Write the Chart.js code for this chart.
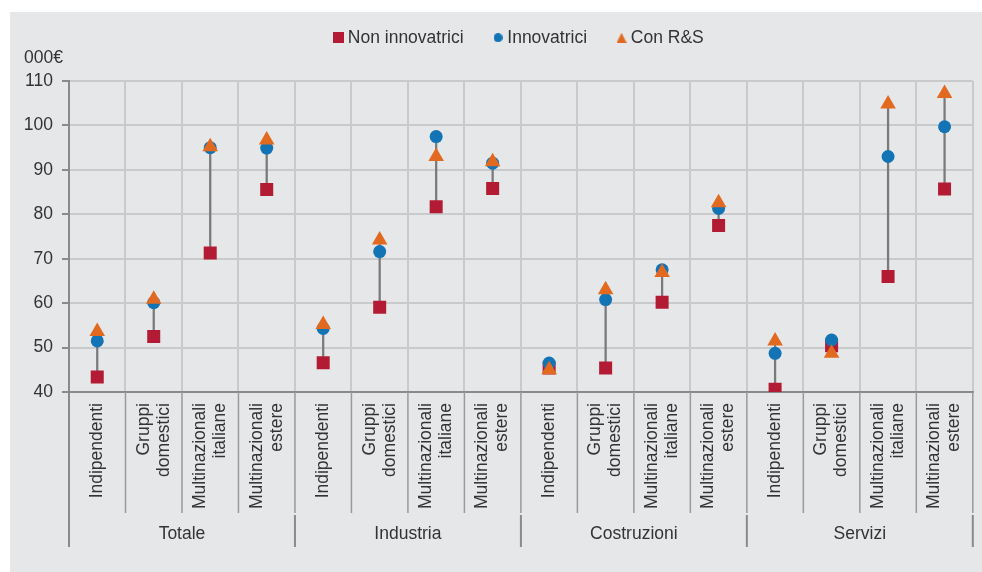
<!DOCTYPE html>
<html>
<head>
<meta charset="utf-8">
<script src="https://cdn.jsdelivr.net/npm/chart.js@4"></script>
<style>
  html, body { margin: 0; padding: 0; background: #fff; }
  #wrap { position: absolute; left: 10px; top: 12px; width: 972px; height: 560px; background: #e6e7e8; }
</style>
</head>
<body>
<div id="wrap"><canvas id="chart" width="972" height="560"></canvas></div>
<script>
// Chart data
const sectors = ['Totale', 'Industria', 'Costruzioni', 'Servizi'];
const firmTypes = [['Indipendenti'], ['Gruppi', 'domestici'], ['Multinazionali', 'italiane'], ['Multinazionali', 'estere']];
const nonInnovatrici = [43.4, 52.5, 71.3, 85.6, 46.6, 59.1, 81.7, 85.8, 45.4, 45.4, 60.2, 77.5, 40.6, 50.4, 66.0, 85.7];
const innovatrici = [51.5, 60.1, 95.0, 94.9, 54.3, 71.6, 97.5, 91.5, 46.5, 60.8, 67.5, 81.3, 48.7, 51.7, 93.0, 99.7];
const conRS = [53.6, 60.9, 95.2, 96.7, 55.2, 74.2, 93.0, 91.8, 45.0, 63.0, 66.9, 82.6, 51.5, 48.7, 104.8, 107.2];
const yMin = 40, yMax = 110, yStep = 10;
const unitLabel = '000€';

const categoryLabels = [];
sectors.forEach(() => firmTypes.forEach(t => categoryLabels.push(t)));

// min-max range for the connecting line
const ranges = nonInnovatrici.map((v, i) => {
    const vals = [v, innovatrici[i], conRS[i]];
    return [Math.min(...vals), Math.max(...vals)];
});

const FONT = '"Liberation Sans", Arial, sans-serif';
const TEXT = '#333333';
const RED = '#b31b34', BLUE = '#1273b5', ORANGE = '#e26a20';
Chart.defaults.font.family = FONT;
Chart.defaults.font.size = 17.5;
Chart.defaults.color = TEXT;

// small legend markers, one per series
function makeMarker(shape, size, color) {
    const c = document.createElement('canvas');
    c.width = size;
    c.height = size;
    const m = c.getContext('2d');
    m.fillStyle = color;
    m.beginPath();
    if (shape === 'rect') {
        m.rect(0, 0, size, size);
    } else if (shape === 'circle') {
        m.arc(size / 2, size / 2, size / 2, 0, Math.PI * 2);
    } else {
        m.moveTo(size / 2, 0);
        m.lineTo(size, size);
        m.lineTo(0, size);
        m.closePath();
    }
    m.fill();
    return c;
}
const legendMarkers = {
    1: makeMarker('rect', 11, RED),
    2: makeMarker('circle', 9, BLUE),
    3: makeMarker('triangle', 10, ORANGE)
};

// extra room under the legend
const legendSpacer = {
    id: 'legendSpacer',
    beforeInit(chart) {
        const fit = chart.legend.fit;
        chart.legend.fit = function() {
            fit.call(this);
            this.height += 24.5;
        };
    }
};

// x axis labels on two levels, separators and unit label
const axisDecor = {
    id: 'axisDecor',
    afterDraw(chart) {
        const ctx = chart.ctx;
        const x = chart.scales.x;
        const top = chart.chartArea.bottom;
        const n = categoryLabels.length;
        ctx.save();

        ctx.strokeStyle = '#9a9a9a';
        ctx.lineWidth = 1.5;
        for (let i = 0; i <= n; i++) {
            const px = x.getPixelForValue(i - 0.5);
            ctx.beginPath();
            ctx.moveTo(px, top);
            ctx.lineTo(px, top + 121);
            ctx.stroke();
        }
        ctx.strokeStyle = '#8a8a8a';
        ctx.lineWidth = 2;
        for (let g = 0; g <= sectors.length; g++) {
            const px = x.getPixelForValue(g * firmTypes.length - 0.5);
            ctx.beginPath();
            ctx.moveTo(px, g === 0 ? top : top + 123);
            ctx.lineTo(px, top + 155);
            ctx.stroke();
        }

        ctx.fillStyle = TEXT;
        ctx.font = '17.5px ' + FONT;
        categoryLabels.forEach((lines, i) => {
            ctx.save();
            ctx.translate(x.getPixelForValue(i), top + 11);
            ctx.rotate(-Math.PI / 2);
            ctx.textAlign = 'right';
            ctx.textBaseline = 'middle';
            lines.forEach((line, j) => ctx.fillText(line, 0, (j - (lines.length - 1) / 2) * 20));
            ctx.restore();
        });

        ctx.textAlign = 'center';
        ctx.textBaseline = 'middle';
        sectors.forEach((s, g) => {
            const a = x.getPixelForValue(g * firmTypes.length - 0.5);
            const b = x.getPixelForValue((g + 1) * firmTypes.length - 0.5);
            ctx.fillText(s, (a + b) / 2, top + 142);
        });

        ctx.textAlign = 'left';
        ctx.fillText(unitLabel, 14, 46);
        ctx.restore();
    }
};

const ctx = document.getElementById('chart').getContext('2d');
const chart = new Chart(ctx, {
    type: 'line',
    data: {
        labels: categoryLabels,
        datasets: [{
            type: 'bar',
            label: 'range',
            data: ranges,
            backgroundColor: '#7a7a7a',
            barThickness: 1.6,
            order: 3
        }, {
            label: 'Non innovatrici',
            data: nonInnovatrici,
            showLine: false,
            pointStyle: 'rect',
            pointRadius: 9.2,
            pointHoverRadius: 9.2,
            pointBorderWidth: 0,
            backgroundColor: RED,
            borderColor: RED,
            order: 2
        }, {
            label: 'Innovatrici',
            data: innovatrici,
            showLine: false,
            pointStyle: 'circle',
            pointRadius: 6.5,
            pointHoverRadius: 6.5,
            pointBorderWidth: 0,
            backgroundColor: BLUE,
            borderColor: BLUE,
            order: 1
        }, {
            label: 'Con R&S',
            data: conRS,
            showLine: false,
            pointStyle: 'triangle',
            pointRadius: 9,
            pointHoverRadius: 9,
            pointBorderWidth: 0,
            backgroundColor: ORANGE,
            borderColor: ORANGE,
            order: 0
        }]
    },
    options: {
        responsive: false,
        animation: false,
        layout: {
            padding: { top: -17, right: 6, bottom: 0, left: 0 }
        },
        scales: {
            x: {
                type: 'category',
                offset: true,
                grid: {
                    offset: true,
                    color: '#c9cacc',
                    lineWidth: 2,
                    drawTicks: false
                },
                border: { color: '#8a8a8a', width: 2 },
                ticks: { display: false },
                afterFit(scale) { scale.height = 180; }
            },
            y: {
                min: yMin,
                max: yMax,
                ticks: {
                    stepSize: yStep,
                    padding: 9,
                    color: TEXT
                },
                grid: {
                    color: '#c9cacc',
                    lineWidth: 2,
                    tickLength: 7,
                    tickColor: '#8a8a8a'
                },
                border: { color: '#8a8a8a', width: 2 },
                afterFit(scale) { scale.width = 59; }
            }
        },
        plugins: {
            legend: {
                display: true,
                position: 'top',
                fullSize: false,
                labels: {
                    usePointStyle: true,
                    boxHeight: 9,
                    boxWidth: 1,
                    padding: 34,
                    color: TEXT,
                    filter: item => item.datasetIndex > 0,
                    sort: (a, b) => a.datasetIndex - b.datasetIndex,
                    generateLabels(chart) {
                        const items = Chart.defaults.plugins.legend.labels.generateLabels(chart);
                        items.forEach(item => {
                            if (legendMarkers[item.datasetIndex]) item.pointStyle = legendMarkers[item.datasetIndex];
                        });
                        return items;
                    }
                }
            },
            tooltip: { enabled: false }
        }
    },
    plugins: [legendSpacer, axisDecor]
});
</script>
</body>
</html>
